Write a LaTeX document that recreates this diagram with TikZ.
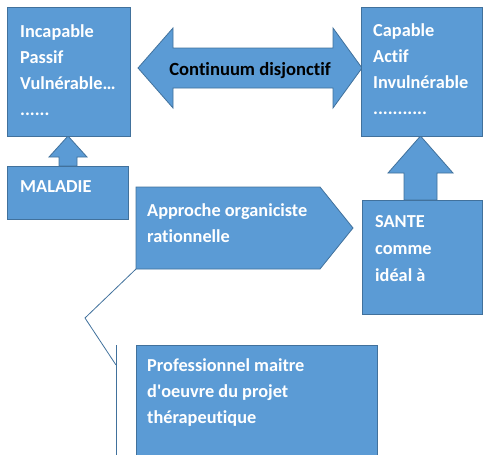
\documentclass[tikz,border=0pt]{standalone}
\usepackage{fontspec}
\setmainfont{Carlito}[Ligatures={NoCommon}]
\definecolor{boxblue}{HTML}{5B9BD5}
\definecolor{edgeblue}{HTML}{41719C}

\begin{document}
\begin{tikzpicture}[x=1pt,y=-1pt,
        box/.style={draw=edgeblue, fill=boxblue, line width=0.8pt, anchor=north west, inner sep=0pt},
        blockarrow/.style={draw=edgeblue, fill=boxblue, line width=0.8pt, line join=miter},
        boxtext/.style={anchor=base west, inner sep=0pt, align=left, text=white,
            font=\bfseries\fontsize{18.3}{26}\selectfont}]
            \useasboundingbox (0,0) rectangle (485,455);
            \clip (0,0) rectangle (485,455);
            % block arrows
            \draw[blockarrow] (138,68) -- (173,28) -- (173,48) -- (333,48) -- (333,28) -- (362,68)
                -- (333,108) -- (333,88) -- (173,88) -- (173,108) -- cycle;
            \draw[blockarrow] (59,166) -- (59,157) -- (49,157) -- (68,136) -- (87,157) -- (77,157) -- (77,166) -- cycle;
            \draw[blockarrow] (404,200) -- (404,173) -- (388,173) -- (420.5,136) -- (453,173) -- (437,173) -- (437,200) -- cycle;
            \draw[blockarrow] (136,187) -- (320,187) -- (353,228) -- (320,269) -- (136,269) -- cycle;
            % boxes
            \node[box, minimum width=123, minimum height=129] (incap) at (7,7) {};
            \node[box, minimum width=121, minimum height=129] (cap) at (361,7) {};
            \node[box, minimum width=121, minimum height=53] (maladie) at (7,166) {};
            \node[box, minimum width=120, minimum height=114] (sante) at (362,200) {};
            \node[box, minimum width=241, minimum height=130] (prof) at (136,345) {};
            % texts (anchored on the baseline of their last line)
            \node[boxtext] (incapT) at (20,115) {Incapable\\Passif\\Vulnérable…\\......};
            \node[boxtext] (capT) at (373,114) {Capable\\Actif\\Invulnérable\\...........};
            \node[boxtext] (maladieT) at (20,192) {MALADIE};
            \node[boxtext, font=\bfseries\fontsize{18.3}{27}\selectfont] (santeT) at (375,281) {SANTE\\comme\\idéal à};
            \node[boxtext] (approT) at (147,242) {Approche organiciste\\rationnelle};
            \node[boxtext] (profT) at (147,423) {Professionnel maitre\\d\textquotesingle oeuvre du projet\\thérapeutique};
            \node[anchor=base, inner sep=0pt, font=\bfseries\fontsize{18.6}{26}\selectfont] (cont) at (250,75) {Continuum disjonctif};
            % bracket line
            \coordinate (apsw) at (136,269);
            \coordinate (bend) at (85,318);
            \coordinate (foot) at (116,365);
            \draw[edgeblue, line width=0.8pt] (apsw) -- (bend) -- (foot);
            \draw[edgeblue, line width=0.8pt] (116,345) -- (116,460);
        \end{tikzpicture}
\end{document}
